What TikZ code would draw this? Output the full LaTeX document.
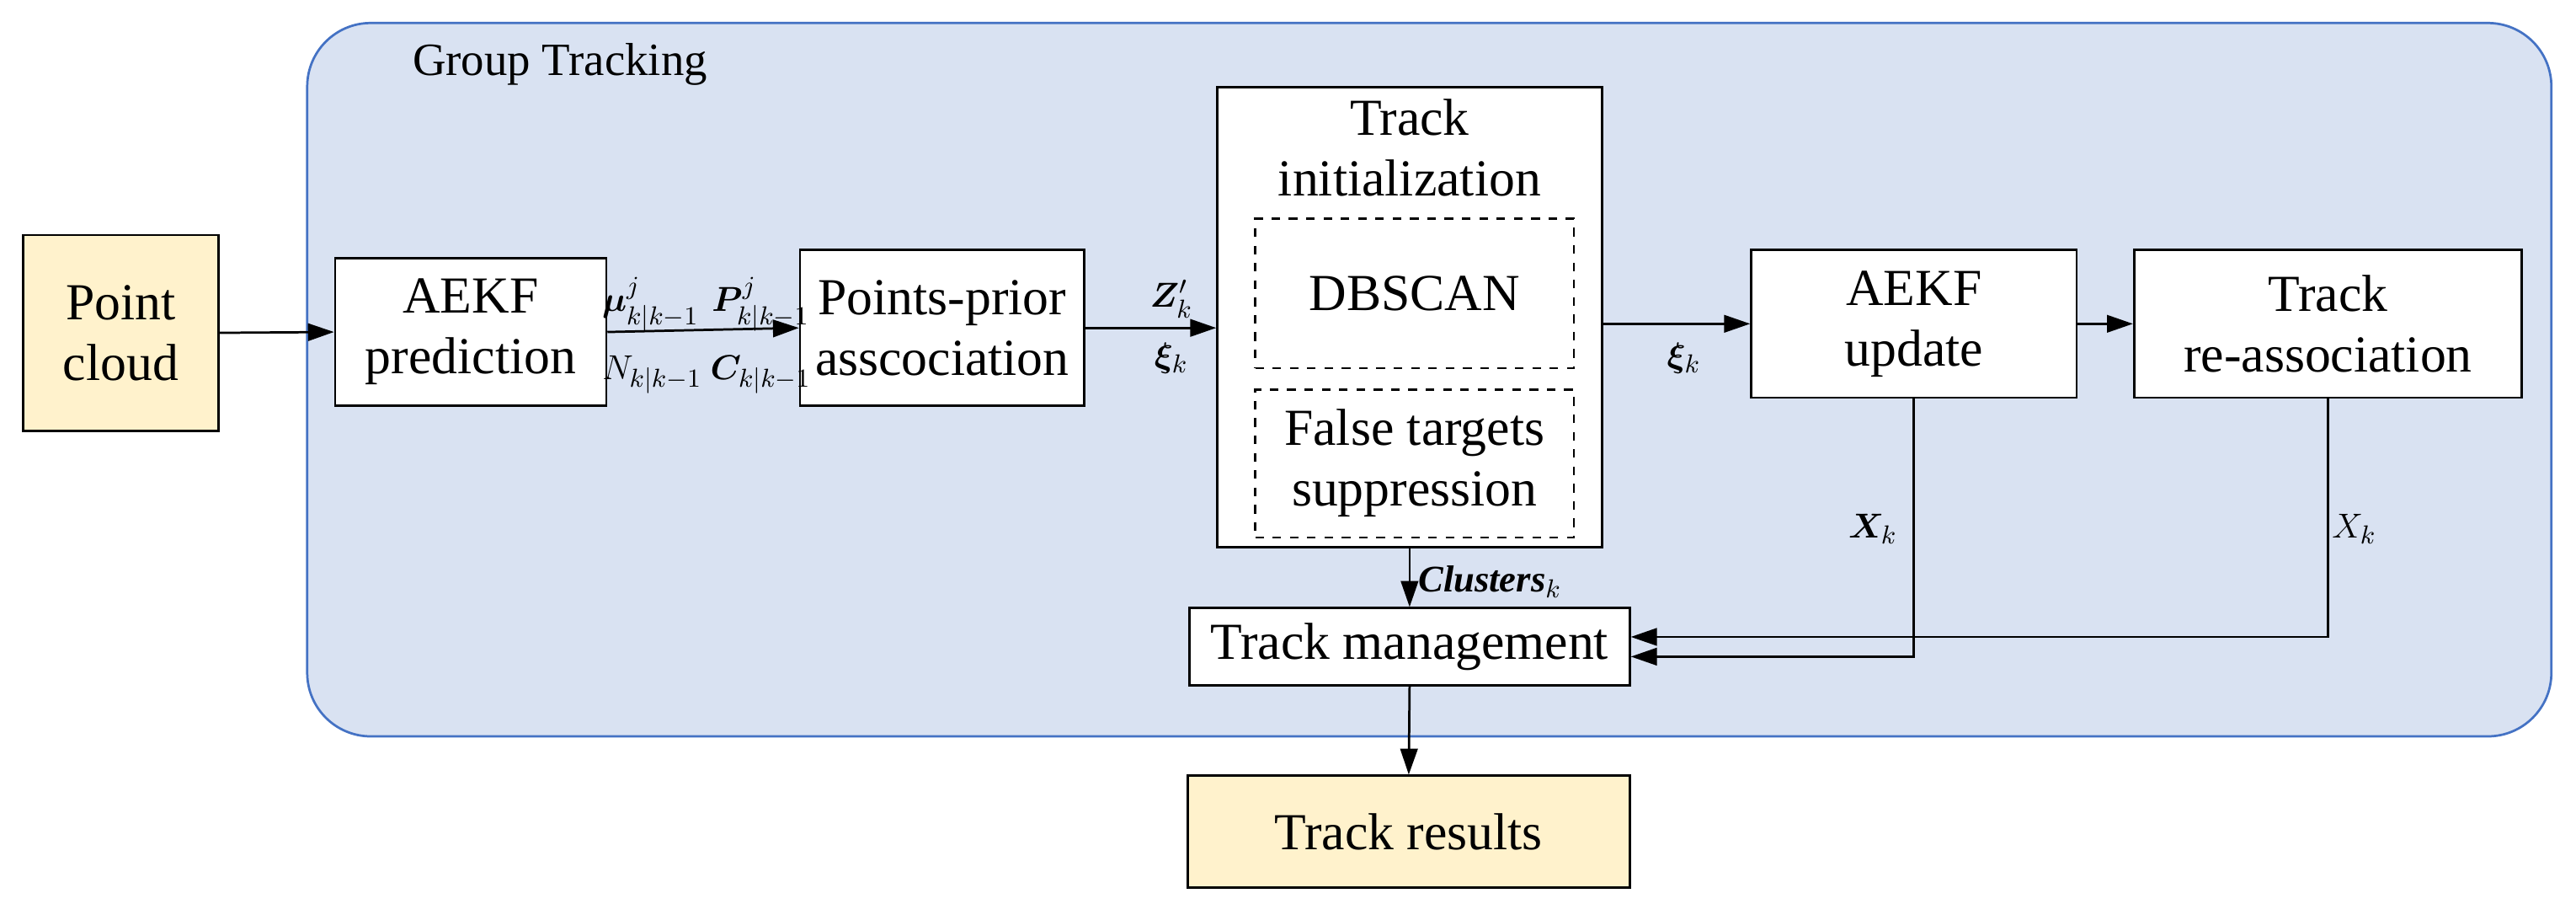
\documentclass[tikz,border=0pt]{standalone}
\usepackage{fontspec}
\setmainfont{Liberation Serif}
\usepackage{amsmath,bm}
\usetikzlibrary{arrows.meta}
\definecolor{grpfill}{HTML}{D9E2F2}
\definecolor{grpline}{HTML}{4472C4}
\definecolor{iofill}{HTML}{FFF2CC}
\tikzset{
  blk/.style={draw,thick,fill=white,align=center,font=\fontsize{18}{21}\selectfont,inner sep=0pt},
  io/.style={blk,fill=iofill},
  dashblk/.style={draw,thick,dashed,align=center,font=\fontsize{18}{21}\selectfont,inner sep=0pt},
  lbl/.style={font=\fontsize{13}{15}\selectfont,inner sep=1pt},
  flow/.style={thick,-{Triangle[length=9pt,width=6pt]}}
}
\begin{document}
\begin{tikzpicture}[x=0.02cm,y=-0.02cm]
\useasboundingbox (0,0) rectangle (1568,550);
\draw [grpline,thick,fill=grpfill,rounded corners=22pt] (187,14) rectangle (1553,448);
\node [anchor=west,font=\fontsize{16}{19}\selectfont] (title) at (245,39) {Group Tracking};
%
\node [io,minimum width=119*0.02cm,minimum height=119*0.02cm] (cloud) at (73.5,202.5) {Point\\cloud};
\node [blk,minimum width=165*0.02cm,minimum height=90*0.02cm] (pred) at (286.5,202) {AEKF\\prediction};
\node [blk,minimum width=173*0.02cm,minimum height=95*0.02cm] (assoc) at (573.5,199.5) {Points-prior\\asscociation};
\node [blk,minimum width=234*0.02cm,minimum height=280*0.02cm] (init) at (858,193) {};
\node [font=\fontsize{18}{21}\selectfont,align=center] (inittitle) at (858,90) {Track\\initialization};
\node [dashblk,minimum width=194*0.02cm,minimum height=91*0.02cm] (dbscan) at (861,178.5) {DBSCAN};
\node [dashblk,minimum width=194*0.02cm,minimum height=90*0.02cm] (false) at (861,282) {False targets\\suppression};
\node [blk,minimum width=198*0.02cm,minimum height=90*0.02cm] (upd) at (1165,197) {AEKF\\update};
\node [blk,minimum width=236*0.02cm,minimum height=90*0.02cm] (reassoc) at (1417,197) {Track\\re-association};
\node [blk,minimum width=268*0.02cm,minimum height=47*0.02cm] (mgmt) at (858,393.5) {Track management};
\node [io,minimum width=269*0.02cm,minimum height=68*0.02cm] (res) at (857.5,506) {Track results};
%
\draw [flow] (cloud.east) -- (pred.west);
\draw [flow] (pred.east) -- (assoc.west);
\draw [flow] (assoc.east) -- (init.west |- assoc.east);
\draw [flow] (init.east |- upd.west) -- (upd.west);
\draw [flow] (upd.east) -- (reassoc.west);
\draw [flow] (init.south) -- (mgmt.north);
\draw [flow] (upd.south) |- ([yshift=-6*0.02cm]mgmt.east);
\draw [flow] (reassoc.south) |- ([yshift=6*0.02cm]mgmt.east);
\draw [flow] (mgmt.south) -- (res.north);
%
\node [lbl] (mu) at (396,185) {$\bm{\mu}^{j}_{k|k-1}$};
\node [lbl] (pp) at (463,185) {$\bm{P}^{j}_{k|k-1}$};
\node [lbl] (nn) at (397,228) {$N_{k|k-1}$};
\node [lbl] (cc) at (463,228) {$\bm{C}_{k|k-1}$};
\node [lbl] (zk) at (713,182) {$\bm{Z}'_{k}$};
\node [lbl] (xi) at (713,218) {$\bm{\xi}_{k}$};
\node [lbl] (xi2) at (1025,218) {$\bm{\xi}_{k}$};
\node [lbl] (cl) at (907,354) {$\bm{\mathit{Clusters}}_{k}$};
\node [lbl] (x1) at (1140,322) {$\bm{X}_{k}$};
\node [lbl] (x2) at (1433,322) {$X_{k}$};
\end{tikzpicture}
\end{document}
